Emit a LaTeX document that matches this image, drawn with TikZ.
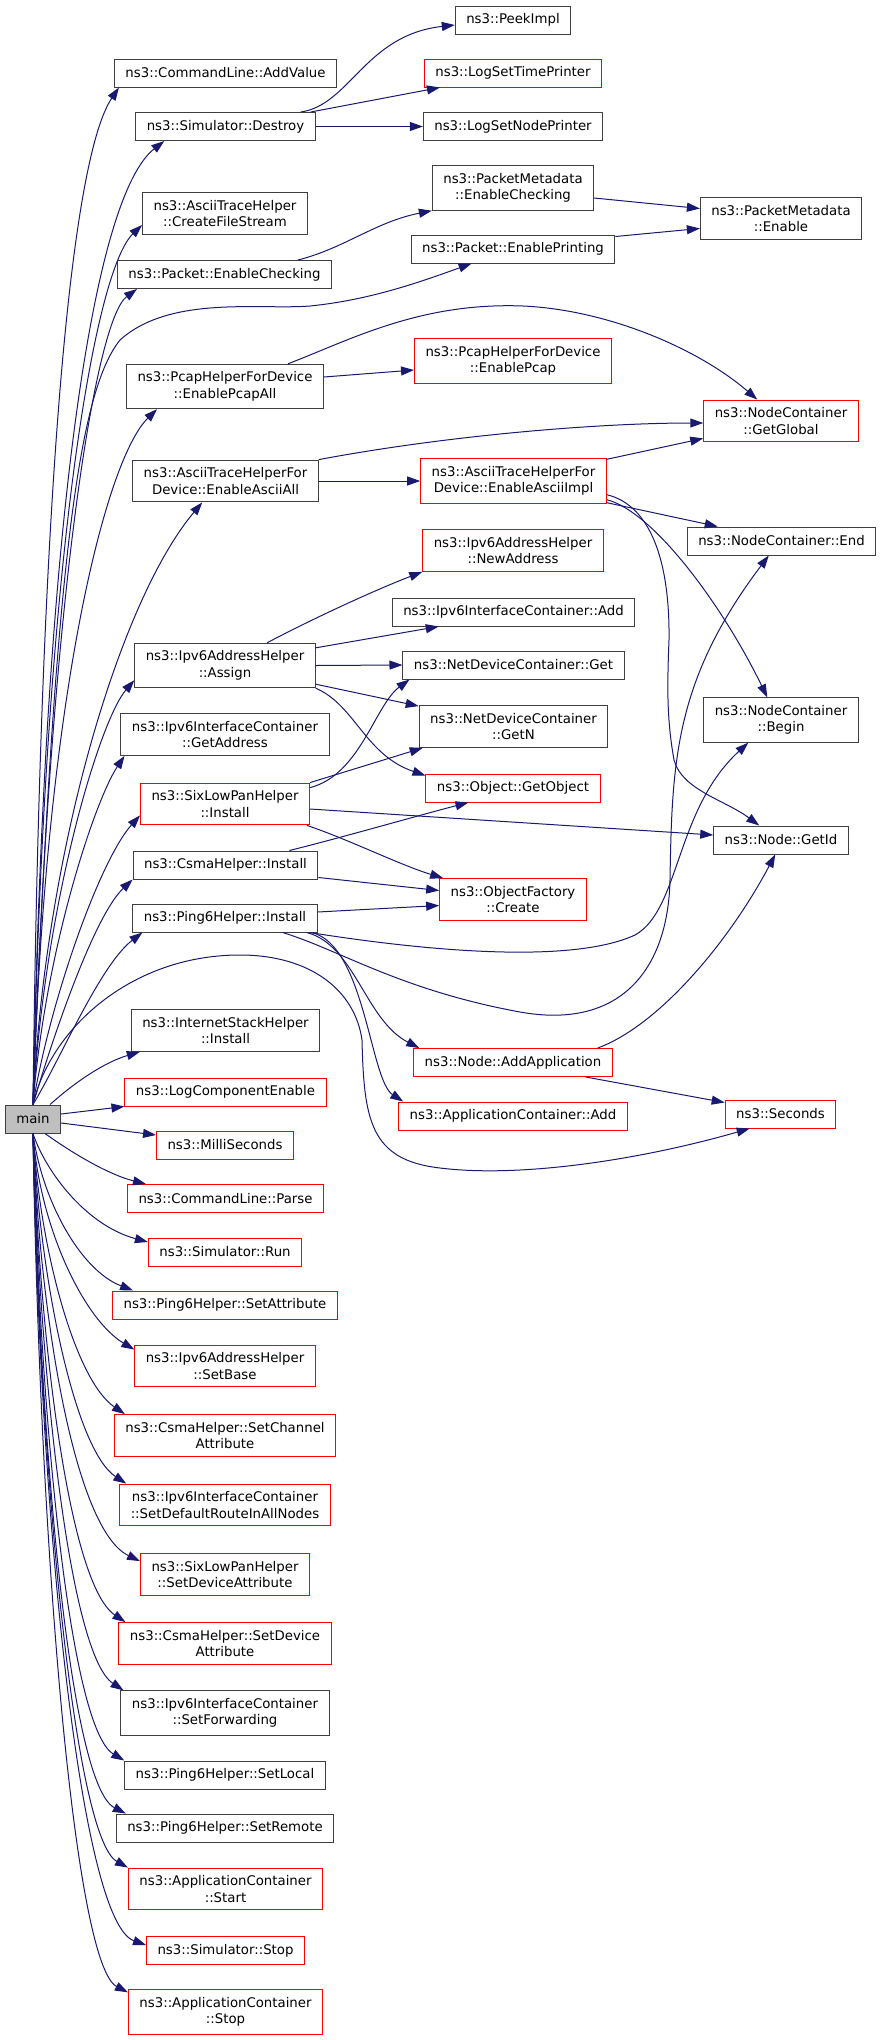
\documentclass[tikz,border=0pt]{standalone}
\usepackage{fontspec}
\newfontfamily\graphfont{DejaVu Sans}
\usetikzlibrary{arrows.meta}
\definecolor{edgeblue}{HTML}{191970}
\definecolor{boxgrey}{HTML}{3F3F3F}
\definecolor{boxred}{HTML}{FF0000}
\definecolor{rootfill}{HTML}{BFBFBF}
\tikzset {
    func box/.style = {
        draw = boxgrey,
        line width = 1pt,
        inner xsep = 11pt,
        inner ysep = 7.5pt,
        minimum height = 28pt,
        align = center,
        font = \graphfont\fontsize{13.3}{16.5}\selectfont
    },
    red box/.style = {func box, draw = boxred},
    root box/.style = {func box, fill = rootfill},
    call/.style = {
        draw = edgeblue,
        line width = 1pt,
        -{Triangle[length = 13pt, width = 9pt]}
    }
}
\begin{document}
\begin{tikzpicture}[x = 1pt, y = -1pt]
    \useasboundingbox (0, 0) rectangle (883, 2040);
    % first column
    \node (main) [root box] at (33, 1119) {main};
    \node (addvalue) [func box] at (225.5, 73) {ns3::CommandLine::AddValue};
    \node (destroy) [func box] at (225.5, 126.5) {ns3::Simulator::Destroy};
    \node (createfs) [func box] at (225, 213.5) {ns3::AsciiTraceHelper\\::CreateFileStream};
    \node (pktcheck) [func box] at (224.5, 274.5) {ns3::Packet::EnableChecking};
    \node (pcapall) [func box] at (225, 386.5) {ns3::PcapHelperForDevice\\::EnablePcapAll};
    \node (asciiall) [func box] at (225.5, 481) {ns3::AsciiTraceHelperFor\\Device::EnableAsciiAll};
    \node (assign) [func box] at (225, 665.5) {ns3::Ipv6AddressHelper\\::Assign};
    \node (getaddr) [func box] at (225, 734.5) {ns3::Ipv6InterfaceContainer\\::GetAddress};
    \node (slpinstall) [red box] at (225, 804) {ns3::SixLowPanHelper\\::Install};
    \node (csmainstall) [func box] at (225.5, 865) {ns3::CsmaHelper::Install};
    \node (pinginstall) [func box] at (225, 918) {ns3::Ping6Helper::Install};
    \node (inetinstall) [func box] at (225.5, 1030.5) {ns3::InternetStackHelper\\::Install};
    \node (logcomp) [red box] at (225.5, 1092) {ns3::LogComponentEnable};
    \node (millisec) [red box] at (225, 1145) {ns3::MilliSeconds};
    \node (parse) [red box] at (225.5, 1198.5) {ns3::CommandLine::Parse};
    \node (simrun) [red box] at (225, 1252) {ns3::Simulator::Run};
    \node (setattr) [red box] at (225, 1305) {ns3::Ping6Helper::SetAttribute};
    \node (setbase) [red box] at (225, 1366) {ns3::Ipv6AddressHelper\\::SetBase};
    \node (setchan) [red box] at (225, 1435.5) {ns3::CsmaHelper::SetChannel\\Attribute};
    \node (setroute) [red box] at (225, 1505) {ns3::Ipv6InterfaceContainer\\::SetDefaultRouteInAllNodes};
    \node (slpsetdev) [red box] at (225, 1574.5) {ns3::SixLowPanHelper\\::SetDeviceAttribute};
    \node (csmasetdev) [red box] at (225, 1643.5) {ns3::CsmaHelper::SetDevice\\Attribute};
    \node (setfwd) [func box] at (225, 1713) {ns3::Ipv6InterfaceContainer\\::SetForwarding};
    \node (setlocal) [func box] at (225, 1775) {ns3::Ping6Helper::SetLocal};
    \node (setremote) [func box] at (225, 1828) {ns3::Ping6Helper::SetRemote};
    \node (appstart) [red box] at (225.5, 1889) {ns3::ApplicationContainer\\::Start};
    \node (simstop) [red box] at (225.5, 1950.5) {ns3::Simulator::Stop};
    \node (appstop) [red box] at (225.5, 2012) {ns3::ApplicationContainer\\::Stop};
    % second column
    \node (peekimpl) [func box] at (513, 20) {ns3::PeekImpl};
    \node (logtime) [red box] at (513, 73) {ns3::LogSetTimePrinter};
    \node (lognode) [func box] at (513, 126.5) {ns3::LogSetNodePrinter};
    \node (pmcheck) [func box] at (513, 188) {ns3::PacketMetadata\\::EnableChecking};
    \node (pktprint) [func box] at (513, 249) {ns3::Packet::EnablePrinting};
    \node (pcap) [red box] at (513, 361) {ns3::PcapHelperForDevice\\::EnablePcap};
    \node (asciiimpl) [red box] at (513.5, 481) {ns3::AsciiTraceHelperFor\\Device::EnableAsciiImpl};
    \node (newaddr) [red box] at (513, 550.5) {ns3::Ipv6AddressHelper\\::NewAddress};
    \node (ifcadd) [func box] at (513.5, 612) {ns3::Ipv6InterfaceContainer::Add};
    \node (ndget) [func box] at (513.5, 665) {ns3::NetDeviceContainer::Get};
    \node (ndgetn) [func box] at (513.5, 726.5) {ns3::NetDeviceContainer\\::GetN};
    \node (getobject) [red box] at (513, 788) {ns3::Object::GetObject};
    \node (ofcreate) [red box] at (513, 899.5) {ns3::ObjectFactory\\::Create};
    \node (addapp) [red box] at (513, 1062.5) {ns3::Node::AddApplication};
    \node (appadd) [red box] at (513, 1116) {ns3::ApplicationContainer::Add};
    % third column
    \node (pmenable) [func box] at (781, 218.5) {ns3::PacketMetadata\\::Enable};
    \node (getglobal) [red box] at (781, 421) {ns3::NodeContainer\\::GetGlobal};
    \node (ncend) [func box] at (781.5, 541) {ns3::NodeContainer::End};
    \node (ncbegin) [func box] at (781, 720) {ns3::NodeContainer\\::Begin};
    \node (getid) [func box] at (781, 840) {ns3::Node::GetId};
    \node (seconds) [red box] at (780.5, 1114) {ns3::Seconds};

    % calls from main, upwards
    \draw [call] (main.north) .. controls (40, 500) and (70, 160) .. ([xshift = 5pt]addvalue.south west);
    \draw [call] (main.north) .. controls (45, 500) and (95, 195) .. ([xshift = 29pt]destroy.south west);
    \draw [call] (main.north) .. controls (45, 550) and (95, 270) .. ([yshift = -11.5pt]createfs.west);
    \draw [call] (main.north) .. controls (50, 600) and (95, 320) .. ([xshift = 20pt]pktcheck.south west);
    \draw [call] (main.north) .. controls (55, 550) and (80, 390) .. (120, 340)
        .. controls (170, 295) and (260, 310) .. (310, 306)
        .. controls (370, 300) and (420, 282) .. ([xshift = 61pt]pktprint.south west);
    \draw [call] (main.north) .. controls (45, 700) and (105, 460) .. ([xshift = 31pt]pcapall.south west);
    \draw [call] (main.north) .. controls (45, 850) and (120, 600) .. ([xshift = 70pt]asciiall.south west);
    \draw [call] (main.north) .. controls (45, 900) and (100, 720) .. ([yshift = 8pt]assign.south west);
    \draw [call] (main.north) .. controls (45, 950) and (95, 800) .. ([xshift = 4pt]getaddr.south west);
    \draw [call] (main.north) .. controls (50, 1000) and (100, 860) .. ([yshift = 10pt]slpinstall.south west);
    \draw [call] (main.north) .. controls (55, 1030) and (95, 915) .. (csmainstall.south west);
    \draw [call] (main.north) .. controls (60, 1060) and (100, 965) .. ([xshift = 10pt]pinginstall.south west);
    \draw [call] (main.north) .. controls (50, 1030) and (130, 955) .. (240, 955)
        .. controls (310, 955) and (355, 990) .. (362, 1040)
        .. controls (364, 1120) and (370, 1160) .. (440, 1168)
        .. controls (520, 1178) and (640, 1160) .. ([xshift = 25pt]seconds.south west);
    \draw [call] ([xshift = -11pt]main.north east) .. controls (75, 1082) and (105, 1062) .. ([xshift = 9pt]inetinstall.south west);
    \draw [call] ([yshift = 5pt]main.east) -- (logcomp.south west);
    \draw [call] ([yshift = -4pt]main.east) -- ([yshift = 10pt]millisec.west);
    % calls from main, downwards
    \draw [call] ([xshift = 12pt]main.south) .. controls (75, 1155) and (110, 1175) .. ([xshift = 19pt]parse.north west);
    \draw [call] (main.south) .. controls (45, 1170) and (85, 1225) .. ([yshift = 10pt]simrun.west);
    \draw [call] (main.south) .. controls (42, 1200) and (80, 1270) .. ([xshift = 21pt]setattr.north west);
    \draw [call] (main.south) .. controls (40, 1230) and (85, 1320) .. ([yshift = -5pt]setbase.north west);
    \draw [call] (main.south) .. controls (40, 1250) and (75, 1380) .. ([xshift = 11pt]setchan.north west);
    \draw [call] (main.south) .. controls (40, 1280) and (75, 1450) .. ([xshift = 7pt]setroute.north west);
    \draw [call] (main.south) .. controls (40, 1320) and (75, 1530) .. ([yshift = -8pt]slpsetdev.north west);
    \draw [call] (main.south) .. controls (40, 1350) and (70, 1585) .. ([xshift = 7pt]csmasetdev.north west);
    \draw [call] (main.south) .. controls (40, 1380) and (70, 1655) .. ([xshift = 3pt]setfwd.north west);
    \draw [call] (main.south) .. controls (40, 1420) and (70, 1728) .. (setlocal.north west);
    \draw [call] (main.south) .. controls (40, 1450) and (70, 1785) .. ([xshift = 10pt]setremote.north west);
    \draw [call] (main.south) .. controls (40, 1480) and (75, 1838) .. (appstart.north west);
    \draw [call] (main.south) .. controls (40, 1520) and (80, 1922) .. ([yshift = 5.5pt]simstop.west);
    \draw [call] (main.south) .. controls (40, 1560) and (75, 1965) .. ([yshift = -3pt]appstop.north west);

    % second level
    \draw [call] ([xshift = -15pt]destroy.north east) .. controls (350, 105) and (365, 35) .. ([yshift = -5pt]peekimpl.west);
    \draw [call] ([xshift = -5pt]destroy.north east) -- ([xshift = 16pt]logtime.south west);
    \draw [call] (destroy.east) -- (lognode.west);
    \draw [call] ([xshift = -34pt]pktcheck.north east) .. controls (345, 248) and (375, 222) .. (pmcheck.south west);
    \draw [call] ([yshift = -10pt]pmcheck.east) -- ([yshift = 10pt]pmenable.west);
    \draw [call] ([yshift = -2pt]pktprint.north east) -- ([yshift = -10pt]pmenable.west);
    \draw [call] ([yshift = 9.5pt]pcapall.east) -- ([yshift = -9pt]pcap.west);
    \draw [call] ([xshift = -36pt]pcapall.north east) .. controls (350, 340) and (420, 302) .. (523, 306)
        .. controls (610, 310) and (700, 350) .. ([xshift = 54pt]getglobal.north west);
    \draw [call] (asciiall.north east) .. controls (450, 435) and (600, 423) .. ([yshift = -2pt]getglobal.west);
    \draw [call] (asciiall.east) -- (asciiimpl.west);
    \draw [call] ([yshift = -1pt]asciiimpl.north east) -- ([yshift = 4pt]getglobal.south west);
    \draw [call] ([yshift = 1pt]asciiimpl.south east) -- ([xshift = 31pt]ncend.north west);
    \draw [call] ([yshift = 4pt]asciiimpl.south east) .. controls (655, 512) and (725, 610) .. ([xshift = 64pt]ncbegin.north west);
    \draw [call] ([yshift = 9pt]asciiimpl.south east) .. controls (650, 505) and (670, 560) .. (669, 640)
        .. controls (667, 690) and (667, 720) .. (674, 760)
        .. controls (682, 790) and (725, 800) .. ([xshift = 46pt]getid.north west);
    \draw [call] ([xshift = 42pt]assign.north) .. controls (320, 615) and (380, 588) .. (newaddr.south west);
    \draw [call] ([yshift = -5pt]assign.north east) -- ([xshift = 47pt]ifcadd.south west);
    \draw [call] (assign.east) -- (ndget.west);
    \draw [call] ([yshift = 4pt]assign.south east) -- ([yshift = -1pt]ndgetn.north west);
    \draw [call] (assign.south east) .. controls (355, 705) and (365, 755) .. ([yshift = -2pt]getobject.north west);
    \draw [call] ([yshift = -5pt]slpinstall.north east) .. controls (360, 775) and (375, 705) .. ([xshift = 7pt]ndget.south west);
    \draw [call] (slpinstall.north east) -- ([xshift = 4pt]ndgetn.south west);
    \draw [call] ([yshift = -5pt]slpinstall.east) -- ([yshift = 5pt]getid.west);
    \draw [call] ([xshift = -3pt]slpinstall.south east) .. controls (350, 840) and (400, 865) .. ([xshift = 4pt]ofcreate.north west);
    \draw [call] ([xshift = -29pt]csmainstall.north east) .. controls (340, 838) and (420, 815) .. ([xshift = 43pt]getobject.south west);
    \draw [call] ([yshift = 2pt]csmainstall.south east) -- ([yshift = 9pt]ofcreate.west);
    \draw [call] ([yshift = 6pt]pinginstall.east) -- ([yshift = -6pt]ofcreate.west);
    \draw [call] ([xshift = -35pt]pinginstall.south east) .. controls (340, 950) and (400, 990) .. (520, 1012)
        .. controls (620, 1030) and (668, 970) .. (670, 880)
        .. controls (672, 760) and (675, 680) .. ([xshift = 82pt]ncend.south west);
    \draw [call] ([xshift = -8pt]pinginstall.south east) .. controls (420, 950) and (570, 965) .. (635, 935)
        .. controls (680, 910) and (675, 810) .. ([xshift = 45pt]ncbegin.south west);
    \draw [call] ([xshift = -11pt]pinginstall.south east) .. controls (355, 945) and (365, 1020) .. ([xshift = 6pt]addapp.north west);
    \draw [call] ([xshift = -6pt]pinginstall.south east) .. controls (365, 945) and (370, 1080) .. ([xshift = 5pt]appadd.north west);
    \draw [call] ([xshift = -15pt]addapp.north east) .. controls (660, 1025) and (730, 940) .. ([xshift = 62pt]getid.south west);
    \draw [call] ([xshift = -27pt]addapp.south east) -- ([yshift = -3pt]seconds.north west);
\end{tikzpicture}
\end{document}
